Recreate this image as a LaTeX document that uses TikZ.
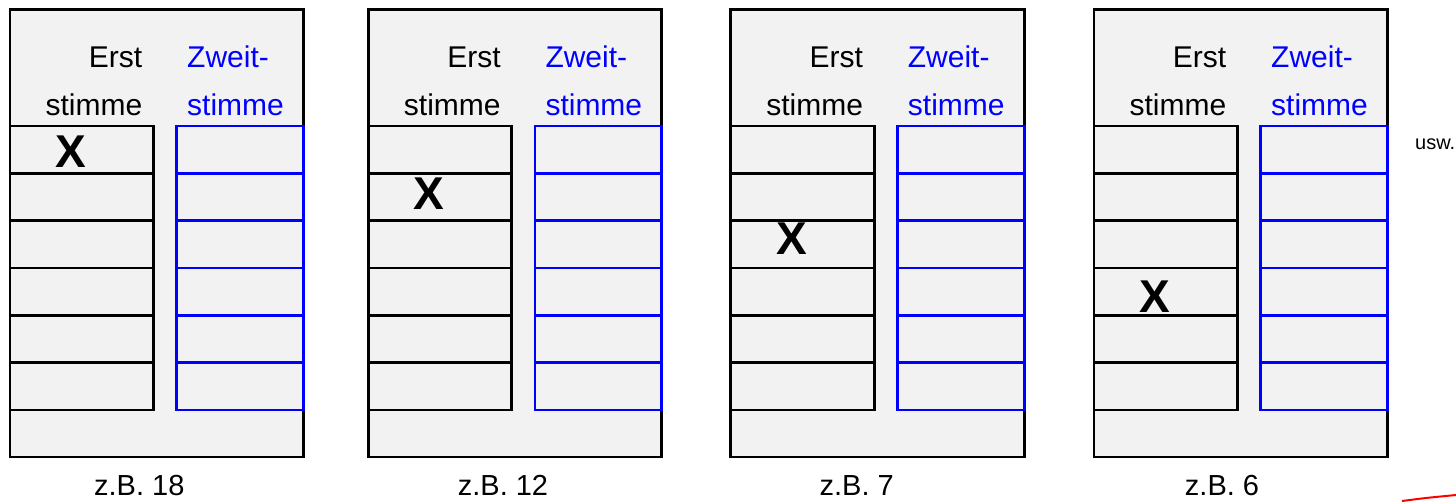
\documentclass[tikz,border=0pt]{standalone}
\usepackage{fontspec}
\setmainfont{Liberation Sans}
\usepackage{tikz}
\usepackage{xcolor}
\definecolor{ballotgray}{RGB}{242,242,242}
\definecolor{zweitblue}{RGB}{0,0,255}

\tikzset{
  ballotline/.style={line width=2.7pt},
  headtext/.style={inner sep=0, font=\fontsize{30}{36}\selectfont},
  crosstext/.style={inner sep=0, font=\fontsize{46}{46}\selectfont\bfseries},
  zbtext/.style={inner sep=0, anchor=base, font=\fontsize{29}{34}\selectfont}
}

\begin{document}
\begin{tikzpicture}[x=1pt,y=-1pt]
\useasboundingbox (0,0) rectangle (1456,501);

\foreach \bx/\xy/\lx/\zb in {10/151.5/139.3/18, 368.3/193.3/503/12, 730.7/239/856.7/7, 1094/296.7/1222/6}{
  \draw[ballotline, fill=ballotgray] (\bx,9.5) rectangle ++(293.5,447.5);
  \draw[ballotline] (\bx,126) rectangle ++(143.5,284);
  \draw[ballotline, zweitblue] (\bx+166.7,126) rectangle ++(126.8,284);
  \foreach \r in {1,...,5}{
    \draw[ballotline] (\bx,126+47.33*\r) -- ++(143.5,0);
    \draw[ballotline, zweitblue] (\bx+166.7,126+47.33*\r) -- ++(126.8,0);
  }
  \node[headtext, anchor=base east] (erst\zb) at (\bx+132.5,67) {Erst};
  \node[headtext, anchor=base east] (erststimme\zb) at (\bx+132.5,115) {stimme};
  \node[headtext, anchor=base west, zweitblue] (zweit\zb) at (\bx+177,67) {Zweit-};
  \node[headtext, anchor=base west, zweitblue] (zweitstimme\zb) at (\bx+177,115) {stimme};
  \node[crosstext] (cross\zb) at (\bx+61,\xy) {X};
  \node[zbtext] (zb\zb) at (\lx,495) {z.B. \zb};
}

\node[inner sep=0, anchor=base west, font=\fontsize{20}{24}\selectfont] (usw) at (1415,149) {usw.};

% Rest einer roten Linie am Rand
\draw[red, line width=2pt] (1402,501) .. controls (1425,498) .. (1456,495);

\end{tikzpicture}
\end{document}
